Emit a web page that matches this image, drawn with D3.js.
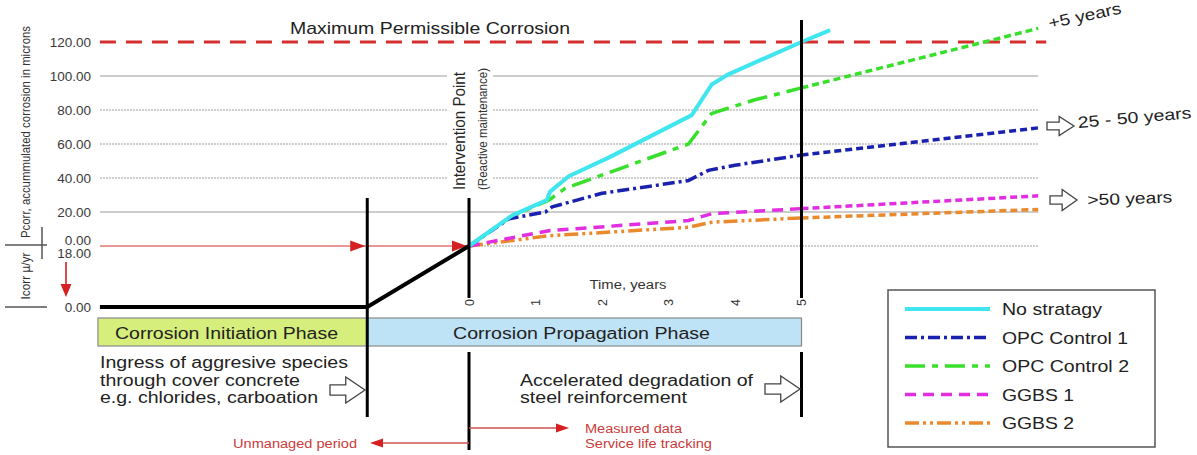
<!DOCTYPE html>
<html>
<head>
<meta charset="utf-8">
<script src="https://cdn.jsdelivr.net/npm/d3@7"></script>
<style>
  html, body { margin: 0; padding: 0; background: #fff; }
  svg { display: block; font-family: "Liberation Sans", Arial, sans-serif; }
</style>
</head>
<body>
<svg id="chart" width="1197" height="455"></svg>
<script>
// Accumulated corrosion Pcorr (microns) against years since the intervention point
const noStrategyYears = [0, 0.65, 1.17, 1.22, 1.5, 2.1, 3.35, 3.65, 3.9, 5, 5.43];
const noStrategyPcorr = [0, 18, 27, 32, 41, 52, 77, 95, 101, 120, 127];
const opc1Years = [0, 0.6, 1.15, 1.25, 2.0, 3.3, 3.6, 4.0, 5, 8.56];
const opc1Pcorr = [0, 16, 20, 23, 31, 38.5, 44.5, 47.5, 53.5, 69.5];
const opc2Years = [0, 0.62, 1.2, 1.45, 3.3, 3.65, 4.3, 5, 8.56];
const opc2Pcorr = [0, 17, 27, 34, 60, 78, 86, 93, 128];
const ggbs1Years = [0, 1.2, 3.3, 3.65, 5, 8.56];
const ggbs1Pcorr = [0, 9, 15, 19, 22, 29.5];
const ggbs2Years = [0, 1.2, 3.3, 3.65, 5, 8.56];
const ggbs2Pcorr = [0, 6, 11, 14, 16.5, 21.5];

const seriesNames = ["No stratagy", "OPC Control 1", "OPC Control 2", "GGBS 1", "GGBS 2"];
const pcorrTicks = [0, 20, 40, 60, 80, 100, 120];
const icorrTicks = [0, 18];
const timeTicks = [0, 1, 2, 3, 4, 5];
const maxPermissible = 120;

// Timeline markers in years relative to the intervention point
const initiationStart = -5.55;
const propagationStart = -1.53;
const trackingEnd = 5;
const projectionEnd = 8.56;
const limitLineEnd = 8.68;

const serviceLifeLabels = ["+5 years", "25 - 50 years", ">50 years"];

const svg = d3.select("#chart");

const x = d3.scaleLinear().domain([0, 5]).range([469, 801.5]);
const y = d3.scaleLinear().domain([0, 120]).range([246, 42]);
const yI = d3.scaleLinear().domain([0, 18]).range([307, 253.5]);

const zip = (a, b) => a.map((t, i) => [t, b[i]]);

const series = [
  { name: seriesNames[0], pts: zip(noStrategyYears, noStrategyPcorr), color: "#3fe5ef", width: 4,   dash: null,              proj: null },
  { name: seriesNames[1], pts: zip(opc1Years, opc1Pcorr),             color: "#1a22ad", width: 3.5, dash: "12,4,3,4",        proj: "7,4" },
  { name: seriesNames[2], pts: zip(opc2Years, opc2Pcorr),             color: "#38df2b", width: 3.5, dash: "20,7,6,7",        proj: "7,4" },
  { name: seriesNames[3], pts: zip(ggbs1Years, ggbs1Pcorr),           color: "#e02ee0", width: 3.5, dash: "11,7",            proj: "7,4" },
  { name: seriesNames[4], pts: zip(ggbs2Years, ggbs2Pcorr),           color: "#ea8a2e", width: 3.5, dash: "14,4,3,4,3,4",    proj: "7,4" }
];

// ---- gridlines ----
const grid = svg.append("g");
pcorrTicks.filter(d => d > 0 && d < maxPermissible).forEach(d => {
  grid.append("line")
    .attr("x1", x(initiationStart)).attr("x2", x(projectionEnd))
    .attr("y1", y(d)).attr("y2", y(d))
    .attr("stroke", "#bdbdbd").attr("stroke-width", 1.4)
    .attr("stroke-dasharray", (d === 20 || d === 100) ? null : "2,1");
});
// zero line: red across the unmanaged period, grey afterwards
grid.append("line")
  .attr("x1", x(initiationStart)).attr("x2", x(0))
  .attr("y1", y(0)).attr("y2", y(0))
  .attr("stroke", "#e07575").attr("stroke-width", 1.6);
grid.append("line")
  .attr("x1", x(0)).attr("x2", x(projectionEnd))
  .attr("y1", y(0)).attr("y2", y(0))
  .attr("stroke", "#bdbdbd").attr("stroke-width", 1.4).attr("stroke-dasharray", "2,1");

// maximum permissible corrosion
svg.append("line")
  .attr("x1", x(initiationStart)).attr("x2", x(limitLineEnd))
  .attr("y1", y(maxPermissible)).attr("y2", y(maxPermissible))
  .attr("stroke", "#d42e2e").attr("stroke-width", 3).attr("stroke-dasharray", "16,10");
svg.append("text")
  .attr("x", 290).attr("y", 34)
  .attr("font-size", 17).attr("fill", "#222")
  .attr("textLength", 280).attr("lengthAdjust", "spacingAndGlyphs")
  .text("Maximum Permissible Corrosion");

// intervention point label on a white panel
svg.append("rect").attr("x", 447).attr("y", 60).attr("width", 46).attr("height", 140).attr("fill", "#fff");
svg.append("text")
  .attr("transform", "translate(465,131) rotate(-90)")
  .attr("text-anchor", "middle").attr("font-size", 16).attr("fill", "#222")
  .attr("textLength", 118).attr("lengthAdjust", "spacingAndGlyphs")
  .text("Intervention Point");
svg.append("text")
  .attr("transform", "translate(487,129) rotate(-90)")
  .attr("text-anchor", "middle").attr("font-size", 12).attr("fill", "#333")
  .attr("textLength", 122).attr("lengthAdjust", "spacingAndGlyphs")
  .text("(Reactive maintenance)");

// ---- axes ----
const yAxis = svg.append("g").attr("transform", "translate(91,0)")
  .call(d3.axisLeft(y).tickValues(pcorrTicks).tickFormat(d3.format(".2f")).tickSize(0).tickPadding(0));
yAxis.select(".domain").remove();
yAxis.selectAll("text")
  .attr("font-size", 13.5).attr("fill", "#3a3a3a").attr("font-family", "Liberation Sans, Arial, sans-serif")
  .attr("dy", d => d === 0 ? "-0.12em" : "0.32em");

const iAxis = svg.append("g").attr("transform", "translate(91,0)")
  .call(d3.axisLeft(yI).tickValues(icorrTicks).tickFormat(d3.format(".2f")).tickSize(0).tickPadding(0));
iAxis.select(".domain").remove();
iAxis.selectAll("text")
  .attr("font-size", 13.5).attr("fill", "#3a3a3a").attr("font-family", "Liberation Sans, Arial, sans-serif")
  .attr("dy", "0.32em");

const xAxis = svg.append("g").attr("transform", "translate(0,299)")
  .call(d3.axisBottom(x).tickValues(timeTicks).tickFormat(d3.format("d")).tickSize(0));
xAxis.select(".domain").remove();
xAxis.selectAll("text")
  .attr("x", 0).attr("y", 0).attr("dy", "0.35em")
  .attr("text-anchor", "end").attr("transform", "rotate(-90)")
  .attr("font-size", 12.5).attr("fill", "#333").attr("font-family", "Liberation Sans, Arial, sans-serif");
svg.append("text")
  .attr("x", 628).attr("y", 289).attr("text-anchor", "middle")
  .attr("font-size", 12).attr("fill", "#333")
  .attr("textLength", 77).attr("lengthAdjust", "spacingAndGlyphs")
  .text("Time, years");

// axis titles
svg.append("text")
  .attr("transform", "translate(30,132) rotate(-90)")
  .attr("text-anchor", "middle").attr("font-size", 12.5).attr("fill", "#333")
  .attr("textLength", 212).attr("lengthAdjust", "spacingAndGlyphs")
  .text("Pcorr, accummulated corrosion in microns");
svg.append("text")
  .attr("transform", "translate(30,276) rotate(-90)")
  .attr("text-anchor", "middle").attr("font-size", 12.5).attr("fill", "#333")
  .attr("textLength", 47).attr("lengthAdjust", "spacingAndGlyphs")
  .text("Icorr µ/yr");
const sep = svg.append("g").attr("stroke", "#555").attr("stroke-width", 1.5);
sep.append("line").attr("x1", 5).attr("x2", 47).attr("y1", y(0) - 1).attr("y2", y(0) - 1);
sep.append("line").attr("x1", 5).attr("x2", 47).attr("y1", yI(0)).attr("y2", yI(0));
sep.append("line").attr("x1", 42).attr("x2", 42).attr("y1", 227).attr("y2", 259);

// red arrowhead helper (tip at tx,ty, pointing along angle in degrees)
function arrowHead(g, tx, ty, angle, len, half, color) {
  g.append("path")
    .attr("d", `M0,0 L${-len},${-half} L${-len},${half} Z`)
    .attr("transform", `translate(${tx},${ty}) rotate(${angle})`)
    .attr("fill", color);
}

// icorr drop arrow
const red = "#d42020";
svg.append("line").attr("x1", 66).attr("x2", 66).attr("y1", 262).attr("y2", 288)
  .attr("stroke", red).attr("stroke-width", 1.6);
arrowHead(svg, 66, 297, 90, 13, 5.5, red);

// arrows along the zero line
arrowHead(svg, x(propagationStart) - 2, y(0), 0, 15, 5.5, red);
arrowHead(svg, x(0) - 2, y(0), 0, 15, 5.5, red);

// ---- corrosion curves ----
const line = d3.line().x(d => x(d[0])).y(d => y(d[1]));
const curves = svg.append("g").attr("fill", "none");
[...series].reverse().forEach(s => {
  if (s.proj) {
    const measured = s.pts.filter(p => p[0] <= trackingEnd);
    const projected = s.pts.filter(p => p[0] >= trackingEnd);
    curves.append("path").attr("d", line(projected))
      .attr("stroke", s.color).attr("stroke-width", s.width).attr("stroke-dasharray", s.proj);
    curves.append("path").attr("d", line(measured))
      .attr("stroke", s.color).attr("stroke-width", s.width).attr("stroke-dasharray", s.dash);
  } else {
    curves.append("path").attr("d", line(s.pts))
      .attr("stroke", s.color).attr("stroke-width", s.width)
      .attr("stroke-linejoin", "round");
  }
});

// initiation (icorr) then propagation up to the intervention point
const blackPts = [[x(initiationStart), yI(0)], [x(propagationStart), yI(0)], [x(0), y(0)]];
svg.append("path").attr("d", d3.line()(blackPts))
  .attr("fill", "none").attr("stroke", "#000").attr("stroke-width", 4);

// ---- phase bars ----
const barTop = 318, barH = 28;
svg.append("rect").attr("x", x(initiationStart) - 2).attr("y", barTop)
  .attr("width", x(propagationStart) - x(initiationStart) + 2).attr("height", barH)
  .attr("fill", "#d6ee7c").attr("stroke", "#8a8a8a").attr("stroke-width", 1.2);
svg.append("rect").attr("x", x(propagationStart)).attr("y", barTop)
  .attr("width", x(trackingEnd) - x(propagationStart)).attr("height", barH)
  .attr("fill", "#bfe3f6").attr("stroke", "#8a8a8a").attr("stroke-width", 1.2);
svg.append("text").attr("x", 115).attr("y", 338.5)
  .attr("font-size", 16).attr("fill", "#222")
  .attr("textLength", 223).attr("lengthAdjust", "spacingAndGlyphs")
  .text("Corrosion Initiation Phase");
svg.append("text").attr("x", 453).attr("y", 338.5)
  .attr("font-size", 16).attr("fill", "#222")
  .attr("textLength", 257).attr("lengthAdjust", "spacingAndGlyphs")
  .text("Corrosion Propagation Phase");

// ---- phase boundary lines ----
const vl = svg.append("g").attr("stroke", "#000").attr("stroke-width", 3);
vl.append("line").attr("x1", x(propagationStart)).attr("x2", x(propagationStart)).attr("y1", 198).attr("y2", 417);
vl.append("line").attr("x1", x(0)).attr("x2", x(0)).attr("y1", 198).attr("y2", 298);
vl.append("line").attr("x1", x(0)).attr("x2", x(0)).attr("y1", 352).attr("y2", 450);
vl.append("line").attr("x1", x(trackingEnd)).attr("x2", x(trackingEnd)).attr("y1", 20).attr("y2", 298);
vl.append("line").attr("x1", x(trackingEnd)).attr("x2", x(trackingEnd)).attr("y1", 352).attr("y2", 417);

// hollow block arrow
function blockArrow(left, cy, w, h) {
  const ws = w * 0.45, sh = h * 0.2;
  const pts = [[left, cy - sh], [left + ws, cy - sh], [left + ws, cy - h / 2], [left + w, cy],
               [left + ws, cy + h / 2], [left + ws, cy + sh], [left, cy + sh]];
  svg.append("path").attr("d", d3.line()(pts) + "Z")
    .attr("fill", "#fff").attr("stroke", "#444").attr("stroke-width", 1.3);
}

// ---- phase descriptions ----
const initText = ["Ingress of aggresive species", "through cover concrete", "e.g. chlorides, carboation"];
const initLens = [248, 200, 218];
initText.forEach((t, i) => {
  svg.append("text").attr("x", 100).attr("y", 368 + i * 17.5)
    .attr("font-size", 16).attr("fill", "#222")
    .attr("textLength", initLens[i]).attr("lengthAdjust", "spacingAndGlyphs").text(t);
});
blockArrow(330, 390, 35, 26);

const propText = ["Accelerated degradation of", "steel reinforcement"];
const propLens = [233, 167];
propText.forEach((t, i) => {
  svg.append("text").attr("x", 520).attr("y", 385.5 + i * 17.5)
    .attr("font-size", 16).attr("fill", "#222")
    .attr("textLength", propLens[i]).attr("lengthAdjust", "spacingAndGlyphs").text(t);
});
blockArrow(765, 389, 35, 26);

// ---- management period arrows ----
const redText = "#cc3a3a";
svg.append("line").attr("x1", x(0)).attr("x2", 382).attr("y1", 443).attr("y2", 443)
  .attr("stroke", "#d05050").attr("stroke-width", 1.5);
arrowHead(svg, 370, 443, 180, 13, 4.5, red);
svg.append("text").attr("x", 233).attr("y", 447.5)
  .attr("font-size", 12.5).attr("fill", redText)
  .attr("textLength", 124).attr("lengthAdjust", "spacingAndGlyphs").text("Unmanaged period");

svg.append("line").attr("x1", x(0)).attr("x2", 556).attr("y1", 428).attr("y2", 428)
  .attr("stroke", "#d05050").attr("stroke-width", 1.5);
arrowHead(svg, 569, 428, 0, 13, 4.5, red);
svg.append("text").attr("x", 585).attr("y", 432.5)
  .attr("font-size", 12.5).attr("fill", redText)
  .attr("textLength", 97).attr("lengthAdjust", "spacingAndGlyphs").text("Measured data");
svg.append("text").attr("x", 585).attr("y", 447.5)
  .attr("font-size", 12.5).attr("fill", redText)
  .attr("textLength", 127).attr("lengthAdjust", "spacingAndGlyphs").text("Service life tracking");

// ---- service life outcomes ----
svg.append("text").attr("transform", "translate(1086,21) rotate(-12)")
  .attr("text-anchor", "middle").attr("font-size", 16).attr("fill", "#222")
  .attr("textLength", 74).attr("lengthAdjust", "spacingAndGlyphs").text(serviceLifeLabels[0]);
blockArrow(1047, 126, 27, 19);
svg.append("text").attr("transform", "translate(1135,123) rotate(-5)")
  .attr("text-anchor", "middle").attr("font-size", 16).attr("fill", "#222")
  .attr("textLength", 114).attr("lengthAdjust", "spacingAndGlyphs").text(serviceLifeLabels[1]);
blockArrow(1050, 200, 27, 21);
svg.append("text").attr("transform", "translate(1130,204) rotate(-2)")
  .attr("text-anchor", "middle").attr("font-size", 16).attr("fill", "#222")
  .attr("textLength", 85).attr("lengthAdjust", "spacingAndGlyphs").text(serviceLifeLabels[2]);

// ---- legend ----
const legend = svg.append("g");
legend.append("rect").attr("x", 888).attr("y", 290).attr("width", 267).attr("height", 157)
  .attr("fill", "#fff").attr("stroke", "#555").attr("stroke-width", 1.5);
const legendLens = [100, 126, 127, 72, 72];
series.forEach((s, i) => {
  const ly = 309 + i * 28.5;
  legend.append("line").attr("x1", 905).attr("x2", 990).attr("y1", ly).attr("y2", ly)
    .attr("stroke", s.color).attr("stroke-width", s.width)
    .attr("stroke-dasharray", s.dash);
  legend.append("text").attr("x", 1002).attr("y", ly + 6)
    .attr("font-size", 17).attr("fill", "#222")
    .attr("textLength", legendLens[i]).attr("lengthAdjust", "spacingAndGlyphs")
    .text(s.name);
});
</script>
</body>
</html>
